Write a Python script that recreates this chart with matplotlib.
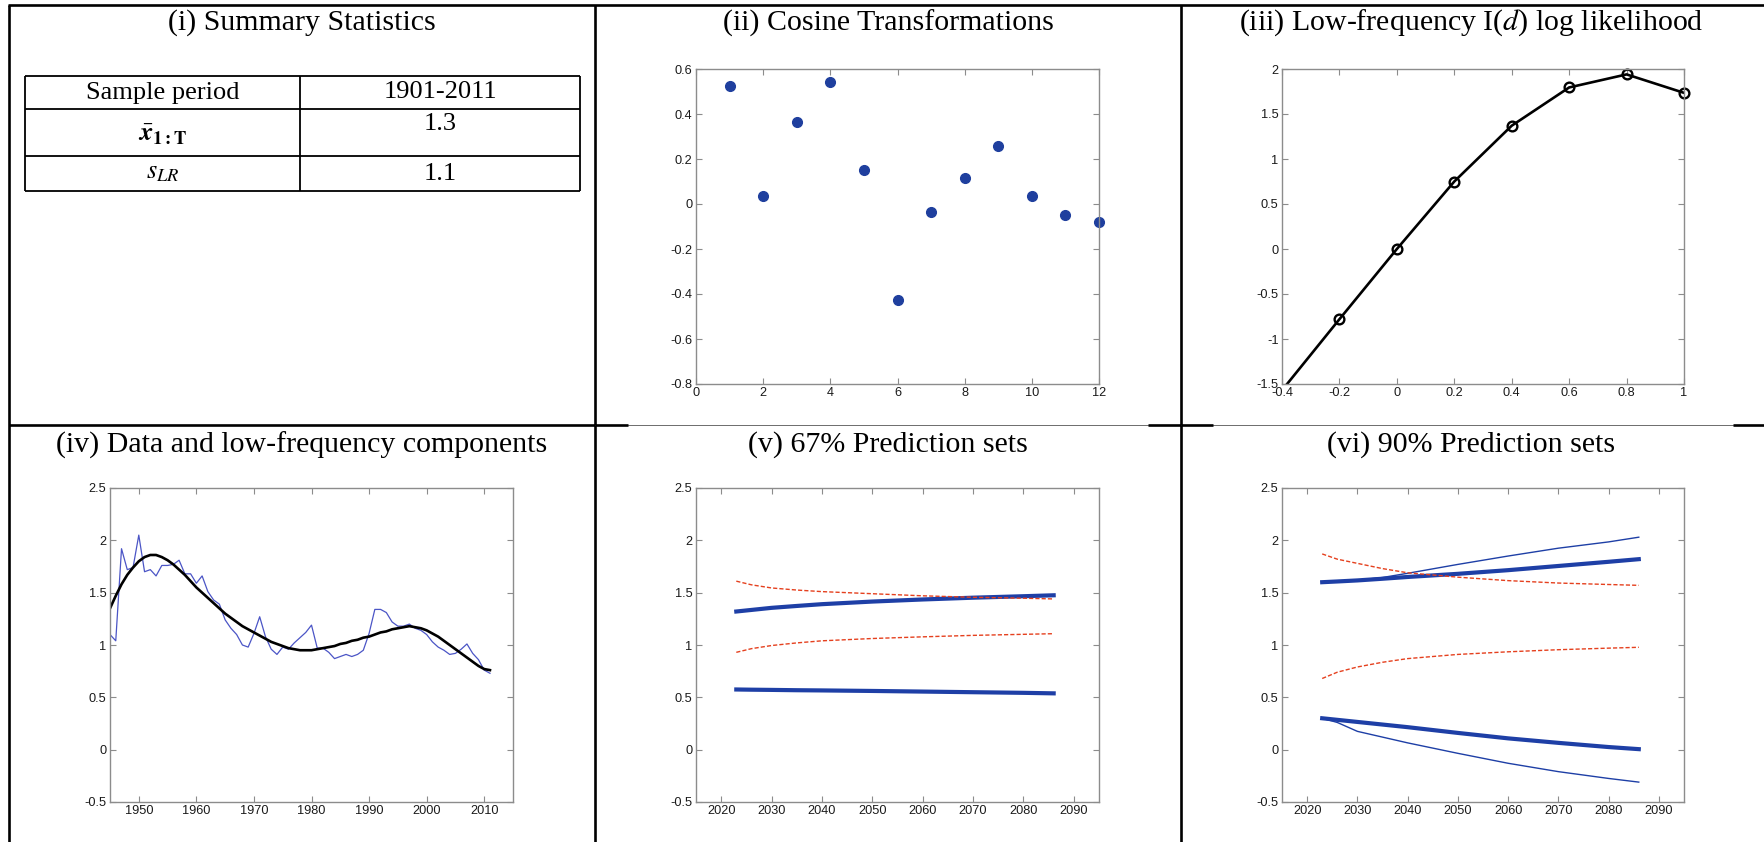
import matplotlib
matplotlib.use("Agg")
import matplotlib.pyplot as plt
from matplotlib.lines import Line2D
from matplotlib.ticker import FixedLocator, FuncFormatter
import numpy as np

plt.rcParams['axes.unicode_minus'] = False
plt.rcParams['mathtext.fontset'] = 'stix'
plt.rcParams['font.family'] = 'Liberation Sans'

# ---------------- data ----------------
# (i) summary statistics
sample_period = "1901-2011"
mean_value = "1.3"
slr_value = "1.1"

# (ii) cosine transformations
cos_index = np.arange(1, 13)
cos_values = [0.523, 0.036, 0.363, 0.543, 0.153, -0.428,
              -0.036, 0.117, 0.256, 0.034, -0.049, -0.078]

# (iii) low-frequency I(d) log likelihood
d_grid = [-0.4, -0.2, 0.0, 0.2, 0.4, 0.6, 0.8, 1.0]
loglik = [-1.57, -0.78, 0.0, 0.75, 1.37, 1.795, 1.94, 1.735]

# (iv) data and low-frequency component
years = np.arange(1945, 2012)
series = [1.10, 1.04, 1.92, 1.72, 1.74, 2.05, 1.70, 1.72, 1.66, 1.76,
          1.76, 1.77, 1.81, 1.68, 1.68, 1.59, 1.66, 1.51, 1.43, 1.39,
          1.24, 1.16, 1.10, 1.00, 0.98, 1.11, 1.27, 1.08, 0.96, 0.91,
          0.98, 0.96, 1.02, 1.07, 1.12, 1.19, 0.97, 0.97, 0.93, 0.87,
          0.89, 0.91, 0.89, 0.91, 0.95, 1.11, 1.34, 1.34, 1.31, 1.22,
          1.18, 1.18, 1.20, 1.16, 1.14, 1.10, 1.03, 0.98, 0.95, 0.91,
          0.92, 0.96, 1.01, 0.92, 0.86, 0.76, 0.73]
trend = [1.35, 1.47, 1.58, 1.67, 1.74, 1.80, 1.84, 1.86, 1.86, 1.84,
         1.81, 1.77, 1.72, 1.67, 1.61, 1.55, 1.50, 1.45, 1.40, 1.35,
         1.30, 1.26, 1.22, 1.18, 1.15, 1.12, 1.09, 1.06, 1.03, 1.01,
         0.99, 0.97, 0.96, 0.95, 0.95, 0.95, 0.96, 0.97, 0.98, 0.99,
         1.01, 1.02, 1.04, 1.05, 1.07, 1.08, 1.10, 1.12, 1.13, 1.15,
         1.16, 1.17, 1.18, 1.17, 1.16, 1.14, 1.11, 1.08, 1.04, 1.00,
         0.96, 0.92, 0.88, 0.84, 0.80, 0.77, 0.76]

# (v), (vi) prediction sets
horizon = [2023, 2026, 2030, 2035, 2040, 2050, 2060, 2070, 2080, 2086]
p67_blue_hi = [1.32, 1.335, 1.355, 1.373, 1.39, 1.415, 1.435, 1.452, 1.466, 1.475]
p67_blue_lo = [0.575, 0.573, 0.571, 0.568, 0.566, 0.561, 0.555, 0.549, 0.543, 0.538]
p67_red_hi = [1.61, 1.575, 1.545, 1.525, 1.51, 1.49, 1.47, 1.456, 1.447, 1.44]
p67_red_lo = [0.93, 0.965, 0.995, 1.02, 1.04, 1.062, 1.078, 1.092, 1.102, 1.108]

p90_blue_hi = [1.60, 1.607, 1.617, 1.633, 1.65, 1.68, 1.715, 1.755, 1.795, 1.82]
p90_blue_lo = [0.30, 0.285, 0.265, 0.24, 0.215, 0.16, 0.108, 0.065, 0.025, 0.005]
p90_thin_hi = [1.60, 1.607, 1.62, 1.645, 1.685, 1.77, 1.85, 1.925, 1.985, 2.03]
p90_thin_lo = [0.30, 0.26, 0.175, 0.12, 0.065, -0.035, -0.13, -0.21, -0.275, -0.31]
p90_red_hi = [1.87, 1.82, 1.78, 1.73, 1.69, 1.648, 1.615, 1.592, 1.578, 1.57]
p90_red_lo = [0.68, 0.74, 0.79, 0.835, 0.87, 0.91, 0.935, 0.955, 0.97, 0.978]

titles = ["(i) Summary Statistics",
          "(ii) Cosine Transformations",
          "(iii) Low-frequency I($d$) log likelihood",
          "(iv) Data and low-frequency components",
          "(v) 67% Prediction sets",
          "(vi) 90% Prediction sets"]

# ---------------- styling ----------------
W, H = 1764, 842
FRAME = '#8c8c8c'
DOT_BLUE = '#1f3f9e'
THIN_BLUE = '#4b55c6'
THICK_BLUE = '#1e3fa6'
RED = '#e5401e'
SERIF = 'Liberation Serif'
TITLE_SIZE = 21.5
TABLE_SIZE = 19
TICK_SIZE = 9.2

fig = plt.figure(figsize=(W / 100, H / 100), dpi=100)


def fx(x):
    return x / W


def fy(y):
    return 1 - y / H


def hline(x0, x1, y, lw=1.9, color='black'):
    fig.add_artist(Line2D([fx(x0), fx(x1)], [fy(y), fy(y)], color=color,
                          lw=lw, solid_capstyle='butt'))


def vline(x, y0, y1, lw=1.9):
    fig.add_artist(Line2D([fx(x), fx(x)], [fy(y0), fy(y1)], color='black',
                          lw=lw, solid_capstyle='butt'))


def fmt(v, pos):
    return f'{round(v, 6) + 0:g}'


def make_axes(l, t, r, b, xlim, ylim, xticks, yticks):
    ax = fig.add_axes([fx(l), fy(b), (r - l) / W, (b - t) / H])
    for s in ax.spines.values():
        s.set_color(FRAME)
        s.set_linewidth(1.0)
    ax.set_xlim(*xlim)
    ax.set_ylim(*ylim)
    ax.xaxis.set_major_locator(FixedLocator(xticks))
    ax.yaxis.set_major_locator(FixedLocator(yticks))
    ax.xaxis.set_major_formatter(FuncFormatter(fmt))
    ax.yaxis.set_major_formatter(FuncFormatter(fmt))
    ax.tick_params(direction='in', top=True, right=True, length=4.5, width=0.8,
                   color=FRAME, labelsize=TICK_SIZE, labelcolor='#1a1a1a',
                   pad=2.5)
    return ax


# ---------------- frame of the panel grid ----------------
LEFT, RIGHT, TOP, MID = 9, W, 5, 425
COL1, COL2 = 595, 1181
hline(LEFT - 1, RIGHT, TOP)
vline(LEFT, TOP, H)
vline(COL1, TOP, H)
vline(COL2, TOP, H)
hline(LEFT, COL1, MID)
hline(COL1, COL2, MID, lw=0.6, color='#555555')
hline(COL2, RIGHT, MID, lw=0.6, color='#555555')
hline(COL1, 628, MID)
hline(1148, COL2, MID)
hline(COL2, 1213, MID)
hline(1733, RIGHT, MID)

col_centers = [(LEFT + COL1) / 2, (COL1 + COL2) / 2, (COL2 + 1761) / 2]
for i, t in enumerate(titles):
    cx = col_centers[i % 3]
    cy = 23 if i < 3 else 445
    fig.text(fx(cx), fy(cy), t, ha='center', va='center', family=SERIF,
             fontsize=TITLE_SIZE)

# ---------------- (i) table ----------------
tl, tr, tm = 25, 580, 300
rows = [76, 109, 156, 191]
for y in rows:
    hline(tl, tr, y, lw=1.3)
vline(tl, rows[0], rows[-1], lw=1.3)
vline(tr, rows[0], rows[-1], lw=1.3)
vline(tm, rows[0], rows[-1], lw=1.3)
cell_text = [("Sample period", sample_period),
             (r"$\bar{\boldsymbol{x}}_{\mathbf{1:T}}$", mean_value),
             (r"$s_{LR}$", slr_value)]
row_y = [(rows[0] + rows[1]) / 2, rows[1] + 15, (rows[2] + rows[3]) / 2]
left_y = [row_y[0], (rows[1] + rows[2]) / 2 + 2, row_y[2]]
for k, (a, b) in enumerate(cell_text):
    fig.text(fx((tl + tm) / 2), fy(left_y[k]), a, ha='center', va='center',
             family=SERIF, fontsize=TABLE_SIZE)
    fig.text(fx((tm + tr) / 2), fy(row_y[k]), b, ha='center', va='center',
             family=SERIF, fontsize=TABLE_SIZE)

# ---------------- (ii) cosine transformations ----------------
ax2 = make_axes(696, 69, 1099, 384, (0, 12), (-0.8, 0.6),
                np.arange(0, 13, 2), np.arange(-0.8, 0.61, 0.2))
ax2.plot(cos_index, cos_values, 'o', color=DOT_BLUE, ms=7.0, mec=DOT_BLUE,
         clip_on=False)

# ---------------- (iii) log likelihood ----------------
ax3 = make_axes(1282, 69, 1684, 384, (-0.4, 1.0), (-1.5, 2.0),
                np.arange(-0.4, 1.01, 0.2), np.arange(-1.5, 2.01, 0.5))
ax3.plot(d_grid, loglik, '-', color='black', lw=1.9)
ax3.plot(d_grid[1:], loglik[1:], 'o', mfc='none', mec='black', ms=7.0,
         mew=1.7, clip_on=False)

# ---------------- (iv) data and low-frequency component ----------------
ax4 = make_axes(110, 488, 513, 802, (1945, 2015), (-0.5, 2.5),
                np.arange(1950, 2011, 10), np.arange(-0.5, 2.51, 0.5))
ax4.plot(years, series, '-', color=THIN_BLUE, lw=0.9)
ax4.plot(years, trend, '-', color='black', lw=1.9)

# ---------------- (v) 67% prediction sets ----------------
ax5 = make_axes(696, 488, 1099, 802, (2015, 2095), (-0.5, 2.5),
                np.arange(2020, 2091, 10), np.arange(-0.5, 2.51, 0.5))
ax5.plot(horizon, p67_blue_hi, '-', color=THICK_BLUE, lw=3.0)
ax5.plot(horizon, p67_blue_lo, '-', color=THICK_BLUE, lw=3.0)
ax5.plot(horizon, p67_red_hi, '--', color=RED, lw=1.0, dashes=(3, 1.5))
ax5.plot(horizon, p67_red_lo, '--', color=RED, lw=1.0, dashes=(3, 1.5))

# ---------------- (vi) 90% prediction sets ----------------
ax6 = make_axes(1282, 488, 1684, 802, (2015, 2095), (-0.5, 2.5),
                np.arange(2020, 2091, 10), np.arange(-0.5, 2.51, 0.5))
ax6.plot(horizon, p90_thin_hi, '-', color=THICK_BLUE, lw=1.0)
ax6.plot(horizon, p90_thin_lo, '-', color=THICK_BLUE, lw=1.0)
ax6.plot(horizon, p90_blue_hi, '-', color=THICK_BLUE, lw=3.0)
ax6.plot(horizon, p90_blue_lo, '-', color=THICK_BLUE, lw=3.0)
ax6.plot(horizon, p90_red_hi, '--', color=RED, lw=1.0, dashes=(3, 1.5))
ax6.plot(horizon, p90_red_lo, '--', color=RED, lw=1.0, dashes=(3, 1.5))

fig.savefig('out.png', dpi=100)
